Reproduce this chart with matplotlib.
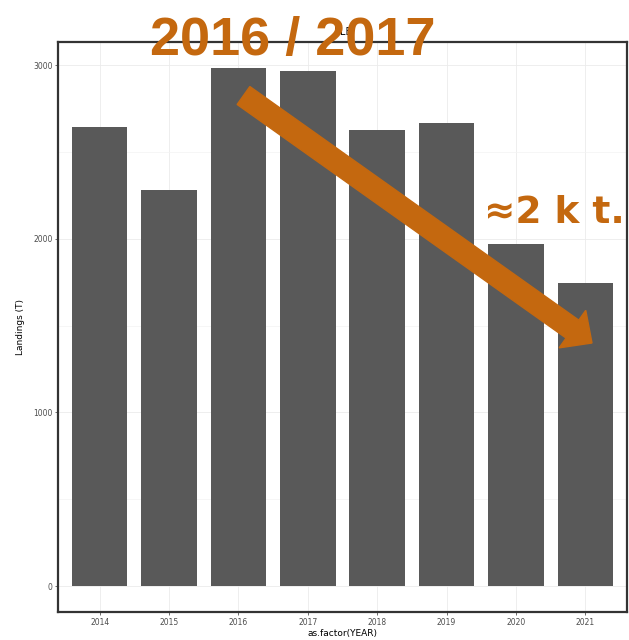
import matplotlib
matplotlib.use("Agg")
import matplotlib.pyplot as plt
from matplotlib.patches import FancyArrow
from matplotlib.transforms import Affine2D
from matplotlib.ticker import MultipleLocator

years = ["2014", "2015", "2016", "2017", "2018", "2019", "2020", "2021"]
landings = [2645, 2282, 2984, 2966, 2626, 2667, 1970, 1745]
y_ticks = [0, 1000, 2000, 3000]

W, H = 629, 640
fig = plt.figure(figsize=(W / 100, H / 100), dpi=100)
ax = fig.add_axes([58 / W, 1 - 612 / H, (627 - 58) / W, (612 - 42) / H])

x = list(range(1, len(years) + 1))
ax.bar(x, landings, width=0.8, color="#595959", zorder=3)
ax.set_xlim(0.4, len(years) + 0.6)
ymax = max(landings)
ax.set_ylim(-0.05 * ymax, 1.05 * ymax)
ax.set_xticks(x)
ax.set_xticklabels(years)
ax.set_yticks(y_ticks)
ax.yaxis.set_minor_locator(MultipleLocator(500))
ax.grid(True, which="major", color="#EBEBEB", lw=0.6, zorder=0)
ax.grid(True, which="minor", axis="y", color="#F3F3F3", lw=0.5, zorder=0)
ax.set_axisbelow(True)
ax.tick_params(axis="both", which="major", labelsize=5.5, labelcolor="#4D4D4D",
               color="#333333", length=2.5, width=0.5, pad=1.5)
ax.tick_params(axis="y", which="minor", length=0)
for s in ax.spines.values():
    s.set_linewidth(1.6)
    s.set_color("#333333")
ax.set_xlabel("as.factor(YEAR)", fontsize=6.5, labelpad=1.5)
ax.set_ylabel("Landings (T)", fontsize=6.5, labelpad=6)
ax.set_title("PLE", fontsize=7, pad=5)

# pixel transform (image coords, y down)
pix = Affine2D().scale(1, -1).translate(0, H).scale(1 / W, 1 / H) + fig.transFigure
orange = "#C4680F"
x0, y0 = 243.5, 95.5
x1, y1 = 592, 343
arrow = FancyArrow(x0, y0, x1 - x0, y1 - y0, width=22, head_width=46,
                   head_length=24, length_includes_head=True,
                   color=orange, transform=pix, zorder=10)
fig.patches.append(arrow)

fig.text(150 / W, 1 - 55 / H, "2016 / 2017", fontsize=39, fontweight="bold",
         family="Liberation Sans", color=orange, ha="left", va="baseline", zorder=11)
fig.text(484 / W, 1 - 223 / H, "≈2 k t.", fontsize=27, fontweight="bold",
         family=["DejaVu Sans"], color=orange, ha="left", va="baseline", zorder=11)

fig.savefig("out.png", dpi=100)
